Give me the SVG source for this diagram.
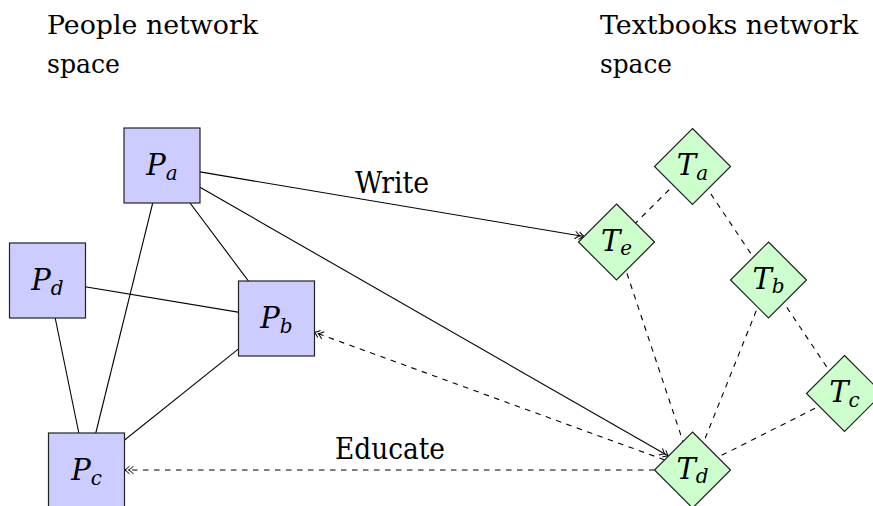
<svg xmlns="http://www.w3.org/2000/svg" width="873" height="506" viewBox="0 0 873 506">
<style>
  .t { font-family: "DejaVu Serif", "Liberation Serif", serif; font-size: 29px; fill: #000; }
  .h { font-size: 26px; }
  .m { font-family: "DejaVu Serif", "Liberation Serif", serif; font-style: italic; font-size: 29px; fill: #000; }
  .sub { font-size: 20px; }
  .e { stroke: #000; stroke-width: 1.1; fill: none; }
  .d { stroke-dasharray: 5.5 5.5; }
  .box { fill: #ccccff; stroke: #222; stroke-width: 1.2; }
  .dia { fill: #ccffcc; stroke: #222; stroke-width: 1.2; }
</style>
<defs>
  <marker id="dh" markerUnits="userSpaceOnUse" markerWidth="14" markerHeight="12" viewBox="-12 -6 14 12" refX="0" refY="0" orient="auto">
    <path d="M-5,-3.8 Q-2,-1 0,0 Q-2,1 -5,3.8 M-9,-3.8 Q-6,-1 -4,0 Q-6,1 -9,3.8" fill="none" stroke="#000" stroke-width="1"/>
  </marker>
</defs>
<g id="titles">
  <text class="t h" x="47" y="34" textLength="211" lengthAdjust="spacingAndGlyphs">People network</text>
  <text class="t h" x="47" y="73" textLength="73" lengthAdjust="spacingAndGlyphs">space</text>
  <text class="t h" x="600" y="34" textLength="258" lengthAdjust="spacingAndGlyphs">Textbooks network</text>
  <text class="t h" x="600" y="73" textLength="72" lengthAdjust="spacingAndGlyphs">space</text>
</g>
<g id="connectors">
  <line class="e" x1="162" y1="165.5" x2="276.5" y2="318.5"/>
  <line class="e" x1="162" y1="165.5" x2="86.5" y2="470.5"/>
  <line class="e" x1="47.5" y1="280.5" x2="276.5" y2="318.5"/>
  <line class="e" x1="47.5" y1="280.5" x2="86.5" y2="470.5"/>
  <line class="e" x1="276.5" y1="318.5" x2="86.5" y2="470.5"/>
  <line class="e" x1="200" y1="171.9" x2="584" y2="236.5" marker-end="url(#dh)"/>
  <line class="e" x1="200" y1="187.3" x2="668.4" y2="456.1" marker-end="url(#dh)"/>
  <line class="e d" x1="664.6" y1="459.9" x2="314.5" y2="332.3" marker-end="url(#dh)"/>
  <line class="e d" x1="654.5" y1="470" x2="124.5" y2="470" marker-end="url(#dh)"/>
  <line class="e d" x1="692.5" y1="166.5" x2="616.5" y2="242"/>
  <line class="e d" x1="692.5" y1="166.5" x2="768.5" y2="280"/>
  <line class="e d" x1="768.5" y1="280" x2="844.5" y2="393.5"/>
  <line class="e d" x1="616.5" y1="242" x2="692.5" y2="470"/>
  <line class="e d" x1="768.5" y1="280" x2="692.5" y2="470"/>
  <line class="e d" x1="844.5" y1="393.5" x2="692.5" y2="470"/>
  <text class="t" x="355" y="193" textLength="74" lengthAdjust="spacingAndGlyphs">Write</text>
  <text class="t" x="335" y="459" textLength="110" lengthAdjust="spacingAndGlyphs">Educate</text>
</g>
<g id="Pa"><rect class="box" x="124" y="128" width="76" height="75"/><text class="m" x="162" y="175" text-anchor="middle">P<tspan class="sub" dy="4.5">a</tspan></text></g>
<g id="Pb"><rect class="box" x="238.5" y="281" width="76" height="75"/><text class="m" x="276.5" y="328" text-anchor="middle">P<tspan class="sub" dy="4.5">b</tspan></text></g>
<g id="Pc"><rect class="box" x="48.5" y="433" width="76" height="75"/><text class="m" x="86.5" y="480" text-anchor="middle">P<tspan class="sub" dy="4.5">c</tspan></text></g>
<g id="Pd"><rect class="box" x="9.5" y="243" width="76" height="75"/><text class="m" x="47.5" y="290" text-anchor="middle">P<tspan class="sub" dy="4.5">d</tspan></text></g>
<g id="Ta"><path class="dia" d="M692.5,128.5 L730.5,166.5 L692.5,204.5 L654.5,166.5 Z"/><text class="m" x="692.5" y="175" text-anchor="middle">T<tspan class="sub" dy="4.5">a</tspan></text></g>
<g id="Tb"><path class="dia" d="M768.5,242 L806.5,280 L768.5,318 L730.5,280 Z"/><text class="m" x="768.5" y="288.5" text-anchor="middle">T<tspan class="sub" dy="4.5">b</tspan></text></g>
<g id="Tc"><path class="dia" d="M844.5,355.5 L882.5,393.5 L844.5,431.5 L806.5,393.5 Z"/><text class="m" x="844.5" y="402" text-anchor="middle">T<tspan class="sub" dy="4.5">c</tspan></text></g>
<g id="Td"><path class="dia" d="M692.5,432 L730.5,470 L692.5,508 L654.5,470 Z"/><text class="m" x="692.5" y="478.5" text-anchor="middle">T<tspan class="sub" dy="4.5">d</tspan></text></g>
<g id="Te"><path class="dia" d="M616.5,204 L654.5,242 L616.5,280 L578.5,242 Z"/><text class="m" x="616.5" y="250.5" text-anchor="middle">T<tspan class="sub" dy="4.5">e</tspan></text></g>
</svg>
